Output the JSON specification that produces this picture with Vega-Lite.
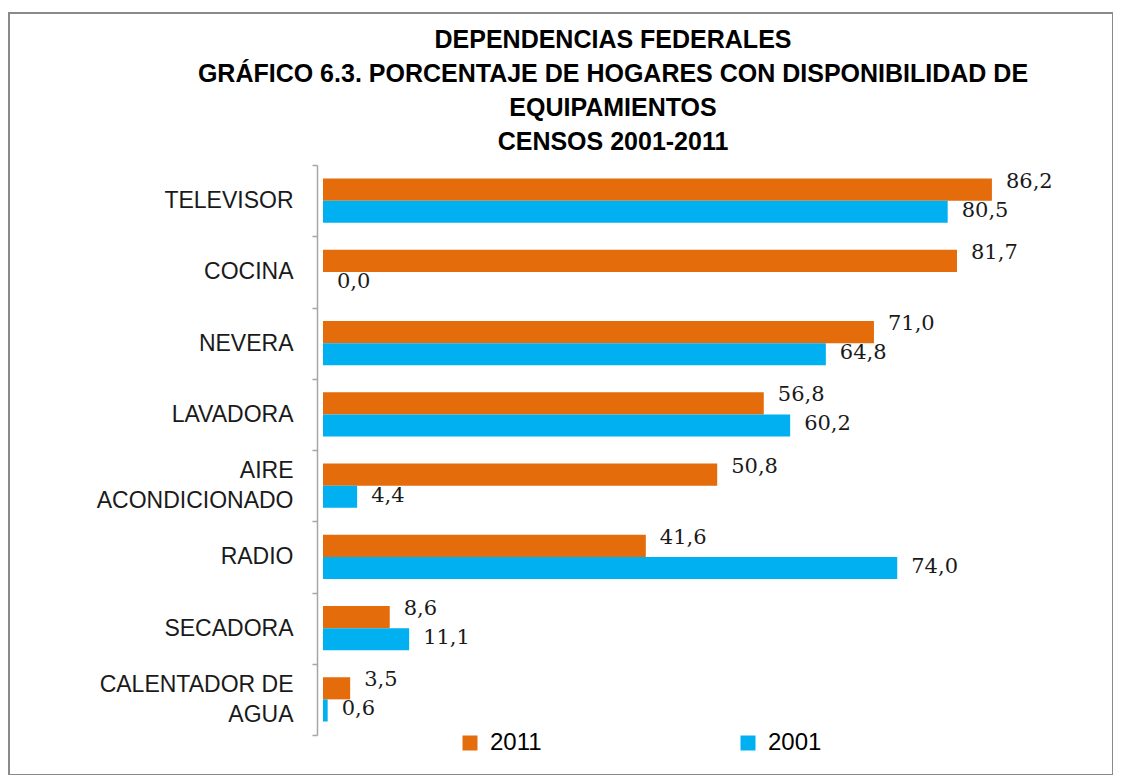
{
  "$schema": "https://vega.github.io/schema/vega-lite/v6.json",
  "width": 1104,
  "height": 762,
  "autosize": {"type": "none"},
  "padding": {"left": 9, "top": 13, "right": 0, "bottom": 0},
  "background": "white",
  "config": {
    "view": {"stroke": "#8a8a8a", "strokeWidth": 2},
    "locale": {"number": {"decimal": ",", "thousands": ".", "grouping": [3], "currency": ["", ""]}},
    "font": "Liberation Sans"
  },
  "title": {
    "text": ["DEPENDENCIAS FEDERALES", "GRÁFICO 6.3. PORCENTAJE DE HOGARES CON DISPONIBILIDAD  DE", "EQUIPAMIENTOS", "CENSOS 2001-2011"],
    "font": "Liberation Sans",
    "fontSize": 25,
    "fontWeight": "bold",
    "color": "#000000",
    "lineHeight": 34,
    "anchor": "middle",
    "frame": "group",
    "dx": 52,
    "dy": 153,
    "offset": 0
  },
  "data": {
    "values": [
      {"equipo": "TELEVISOR", "anio": "2011", "pct": 86.2},
      {"equipo": "TELEVISOR", "anio": "2001", "pct": 80.5},
      {"equipo": "COCINA", "anio": "2011", "pct": 81.7},
      {"equipo": "COCINA", "anio": "2001", "pct": 0.0},
      {"equipo": "NEVERA", "anio": "2011", "pct": 71.0},
      {"equipo": "NEVERA", "anio": "2001", "pct": 64.8},
      {"equipo": "LAVADORA", "anio": "2011", "pct": 56.8},
      {"equipo": "LAVADORA", "anio": "2001", "pct": 60.2},
      {"equipo": "AIRE ACONDICIONADO", "anio": "2011", "pct": 50.8},
      {"equipo": "AIRE ACONDICIONADO", "anio": "2001", "pct": 4.4},
      {"equipo": "RADIO", "anio": "2011", "pct": 41.6},
      {"equipo": "RADIO", "anio": "2001", "pct": 74.0},
      {"equipo": "SECADORA", "anio": "2011", "pct": 8.6},
      {"equipo": "SECADORA", "anio": "2001", "pct": 11.1},
      {"equipo": "CALENTADOR DE AGUA", "anio": "2011", "pct": 3.5},
      {"equipo": "CALENTADOR DE AGUA", "anio": "2001", "pct": 0.6}
    ]
  },
  "encoding": {
    "y": {
      "field": "equipo",
      "type": "nominal",
      "sort": ["TELEVISOR", "COCINA", "NEVERA", "LAVADORA", "AIRE ACONDICIONADO", "RADIO", "SECADORA", "CALENTADOR DE AGUA"],
      "scale": {"range": [152, 722], "paddingInner": 0, "paddingOuter": 0},
      "axis": {
        "title": null,
        "offset": -308,
        "domainColor": "#a6a6a6",
        "domainWidth": 1.5,
        "tickColor": "#a6a6a6",
        "tickWidth": 1.5,
        "tickSize": 5,
        "tickBand": "extent",
        "labelFont": "Liberation Sans",
        "labelFontSize": 23,
        "labelColor": "#1a1a1a",
        "labelPadding": 19,
        "labelLimit": 320,
        "labelLineHeight": 30,
        "labelOffset": {"condition": {"test": "datum.value == 'AIRE ACONDICIONADO' || datum.value == 'CALENTADOR DE AGUA'", "value": -15}, "value": 0},
        "labelExpr": "datum.value == 'AIRE ACONDICIONADO' ? ['AIRE', 'ACONDICIONADO'] : datum.value == 'CALENTADOR DE AGUA' ? ['CALENTADOR DE', 'AGUA'] : datum.value"
      }
    },
    "yOffset": {"field": "anio", "type": "nominal", "sort": ["2011", "2001"], "scale": {"paddingInner": 0, "paddingOuter": 0.61}},
    "x": {"field": "pct", "type": "quantitative", "scale": {"domain": [0, 100], "range": [314, 1090]}, "axis": null}
  },
  "layer": [
    {
      "mark": {"type": "bar", "yOffset": -5},
      "encoding": {
        "color": {
          "field": "anio",
          "type": "nominal",
          "scale": {"domain": ["2011", "2001"], "range": ["#E46C0A", "#00B0F0"]},
          "legend": {
            "orient": "none",
            "legendX": 449,
            "legendY": 718,
            "direction": "horizontal",
            "title": null,
            "symbolType": "square",
            "symbolSize": 225,
            "symbolStrokeWidth": 0,
            "symbolOpacity": 1,
            "labelFont": "Liberation Sans",
            "labelFontSize": 24,
            "labelColor": "#000000",
            "labelOffset": 8,
            "columnPadding": 194,
            "padding": 0
          }
        }
      }
    },
    {
      "transform": [{"filter": "datum.anio == '2011'"}],
      "mark": {"type": "text", "align": "left", "baseline": "middle", "dx": 14, "dy": -8, "font": "DejaVu Serif", "fontSize": 21, "color": "#1a1a1a"},
      "encoding": {"text": {"field": "pct", "type": "quantitative", "format": ".1f"}}
    },
    {
      "transform": [{"filter": "datum.anio == '2001'"}],
      "mark": {"type": "text", "align": "left", "baseline": "middle", "dx": 14, "dy": -1, "font": "DejaVu Serif", "fontSize": 21, "color": "#1a1a1a"},
      "encoding": {"text": {"field": "pct", "type": "quantitative", "format": ".1f"}}
    }
  ]
}
